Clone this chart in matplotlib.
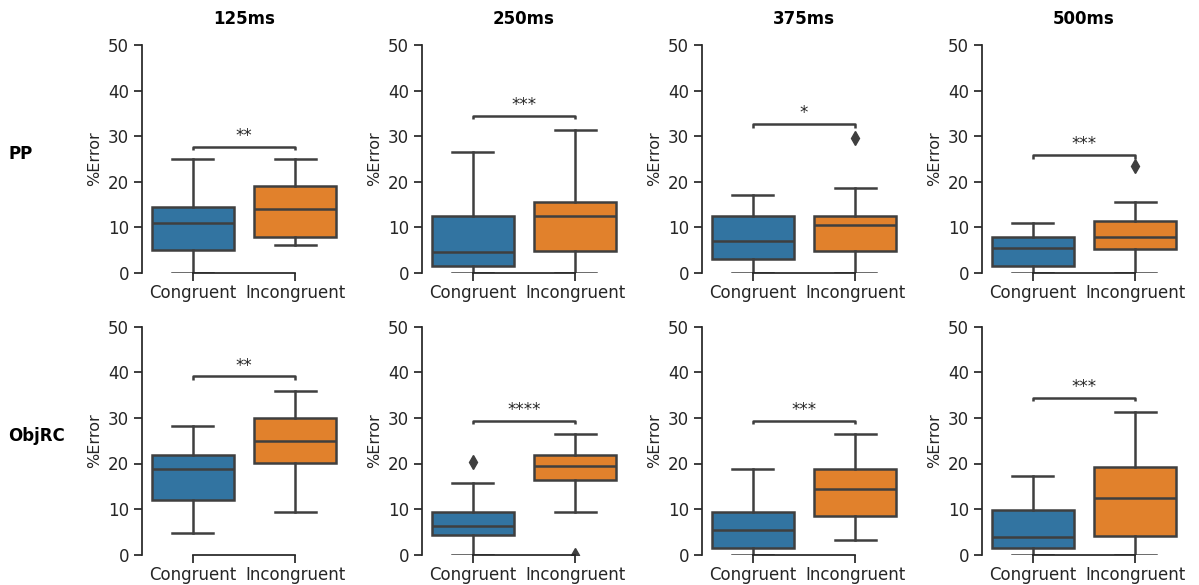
import matplotlib
matplotlib.use("Agg")
import matplotlib.pyplot as plt

plt.rcParams["font.family"] = ["DejaVu Sans"]

groups = ["PP", "ObjRC"]
durations = ["125ms", "250ms", "375ms", "500ms"]
conditions = ["Congruent", "Incongruent"]

# Box statistics, indexed [group][duration][condition]
whislo = [
    [[0.0, 6.25], [0.0, 0.0], [0.0, 0.0], [0.0, 0.0]],
    [[4.69, 9.375], [0.0, 9.375], [0.0, 3.125], [0.0, 0.0]],
]
q1 = [
    [[5.1, 7.8], [1.5625, 4.9], [3.125, 4.8], [1.5625, 5.2]],
    [[12.0, 20.2], [4.4, 16.3], [1.5625, 8.5], [1.5625, 4.2]],
]
med = [
    [[10.94, 14.06], [4.69, 12.5], [7.03, 10.5], [5.47, 7.81]],
    [[18.75, 25.0], [6.25, 19.53], [5.47, 14.45], [3.9, 12.5]],
]
q3 = [
    [[14.45, 19.14], [12.5, 15.63], [12.5, 12.5], [7.81, 11.33]],
    [[21.88, 30.08], [9.375, 21.88], [9.375, 18.75], [9.77, 19.14]],
]
whishi = [
    [[25.0, 25.0], [26.56, 31.25], [17.19, 18.75], [10.94, 15.63]],
    [[28.13, 35.94], [15.63, 26.56], [18.75, 26.56], [17.19, 31.25]],
]
fliers = [
    [[[], []], [[], []], [[], [29.69]], [[], [23.44]]],
    [[[], []], [[20.31], [0.0]], [[], []], [[], []]],
]

# Significance brackets: height and label per panel
bracket_y = [
    [27.7, 34.5, 32.7, 25.9],
    [39.1, 29.4, 29.4, 34.4],
]
stars = [
    ["**", "***", "*", "***"],
    ["**", "****", "***", "***"],
]

box_colors = ["#3274a1", "#e1812c"]
line_color = "#3f3f3f"
text_color = "#262626"

W, H = 1199, 585
fig = plt.figure(figsize=(W / 100, H / 100), dpi=100)

ax_left_px = [141.5 + 280 * c for c in range(4)]
ax_top_px = [45.0, 326.7]
ax_w_px, ax_h_px = 205.0, 228.0

lw = 1.8
for r, g in enumerate(groups):
    for c, d in enumerate(durations):
        left = ax_left_px[c] / W
        bottom = 1 - (ax_top_px[r] + ax_h_px) / H
        ax = fig.add_axes([left, bottom, ax_w_px / W, ax_h_px / H])

        stats = []
        for k, cond in enumerate(conditions):
            stats.append(dict(
                label=cond,
                whislo=whislo[r][c][k], q1=q1[r][c][k], med=med[r][c][k],
                q3=q3[r][c][k], whishi=whishi[r][c][k],
                fliers=fliers[r][c][k],
            ))
        bp = ax.bxp(
            stats, positions=[0, 1], widths=0.8, patch_artist=True,
            showfliers=True,
            boxprops=dict(edgecolor=line_color, linewidth=lw),
            medianprops=dict(color=line_color, linewidth=lw),
            whiskerprops=dict(color=line_color, linewidth=lw),
            capprops=dict(color=line_color, linewidth=lw),
            flierprops=dict(marker="d", markerfacecolor=line_color,
                            markeredgecolor=line_color, markersize=7,
                            linestyle="none"),
            capwidths=0.4,
        )
        for patch, col in zip(bp["boxes"], box_colors):
            patch.set_facecolor(col)

        ax.set_xlim(-0.5, 1.5)
        ax.set_ylim(0, 50)
        ax.set_yticks([0, 10, 20, 30, 40, 50])
        ax.set_xticks([0, 1])
        ax.set_xticklabels(conditions)
        ax.tick_params(labelsize=12, colors=text_color, length=6, width=1.25,
                       pad=3)
        ax.tick_params(axis="x", pad=2)
        ax.set_ylabel("%Error", fontsize=11.5, color=text_color, labelpad=4)

        for side in ["top", "right"]:
            ax.spines[side].set_visible(False)
        for side in ["left", "bottom"]:
            ax.spines[side].set_color(text_color)
            ax.spines[side].set_linewidth(1.25)
        ax.spines["bottom"].set_bounds(0, 1)
        ax.spines["left"].set_bounds(0, 50)

        # Significance bracket
        y = bracket_y[r][c]
        leg = 0.8
        ax.plot([0, 0, 1, 1], [y - leg, y, y, y - leg], color=line_color,
                linewidth=1.8, solid_capstyle="butt", clip_on=False)
        ax.text(0.5, y + 0.4, stars[r][c], ha="center", va="bottom",
                fontsize=12, color=text_color)

        if r == 0:
            ax.set_title(d, fontsize=12, fontweight="bold", pad=15)

for r, g in enumerate(groups):
    yc = ax_top_px[r] + ax_h_px / 2 - 5
    fig.text(8 / W, 1 - yc / H, g, fontsize=12, fontweight="bold",
             ha="left", va="center")

fig.savefig("out.png", dpi=100)
